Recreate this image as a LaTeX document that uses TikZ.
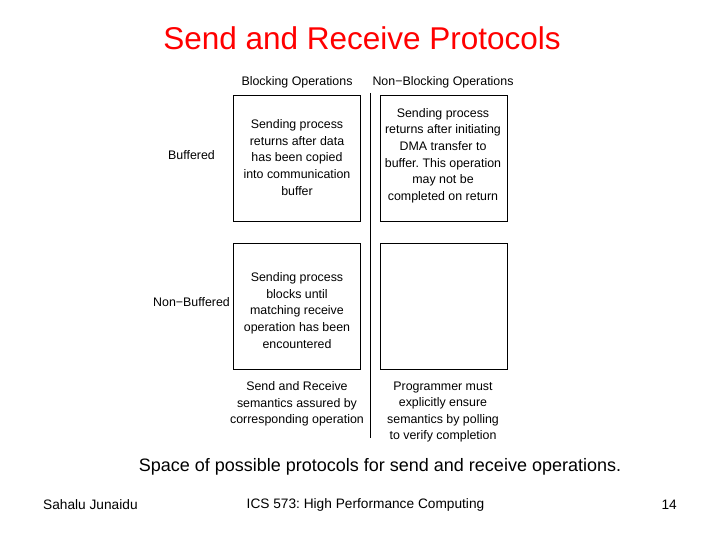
\documentclass[tikz,border=0pt]{standalone}
\usepackage{fontspec}
\setmainfont{Liberation Sans}
\frenchspacing
\begin{document}
\begin{tikzpicture}[x=1pt,y=-1pt,
  box/.style={draw=black,line width=0.8pt,minimum width=127pt,minimum height=126pt,anchor=north west,inner sep=0pt},
  btext/.style={align=center,font=\fontsize{12.4}{16.6}\selectfont},
  head/.style={font=\fontsize{12.4}{14}\selectfont},
  ]
\useasboundingbox (0,0) rectangle (720,540);
\node[text=red,font=\fontsize{31.5}{36}\selectfont] (title) at (362,38.5) {Send and Receive Protocols};
\node[head] (hb) at (297,82.5) {Blocking Operations};
\node[head] (hn) at (443,82.5) {Non−Blocking Operations};
\node[head,anchor=west,inner sep=0pt] (rb) at (168,155.5) {Buffered};
\node[head,anchor=west,inner sep=0pt] (rn) at (153,302.5) {Non−Buffered};
\node[box] (b1) at (233,95) {};
\node[box] (b2) at (380,95) {};
\node[box] (b3) at (233,243) {};
\node[box] (b4) at (380,243) {};
\coordinate (vt) at (370,93);
\coordinate (vb) at (370,438);
\draw[line width=0.8pt] (vt) -- (vb);
\node[btext] (t1) at (297,157.5) {Sending process\\returns after data\\has been copied\\into communication\\buffer};
\node[btext] (t2) at (443,155.5) {Sending process\\returns after initiating\\DMA transfer to\\buffer. This operation\\may not be\\completed on return};
\node[btext] (t3) at (297,310.5) {Sending process\\blocks until\\matching receive\\operation has been\\encountered};
\node[btext] (c1) at (297,404) {Send and Receive\\semantics assured by\\corresponding operation};
\node[btext] (c2) at (443,412) {Programmer must\\explicitly ensure\\semantics by polling\\to verify completion};
\node[font=\fontsize{18}{21}\selectfont] (cap) at (380,466.5) {Space of possible protocols for send and receive operations.};
\node[font=\fontsize{13.7}{16}\selectfont,anchor=west,inner sep=0pt] (f1) at (43,504.5) {Sahalu Junaidu};
\node[font=\fontsize{13.7}{16}\selectfont] (f2) at (365.5,504.5) {ICS 573: High Performance Computing};
\node[font=\fontsize{13.7}{16}\selectfont,anchor=east,inner sep=0pt] (f3) at (677,504.5) {14};
\end{tikzpicture}
\end{document}
